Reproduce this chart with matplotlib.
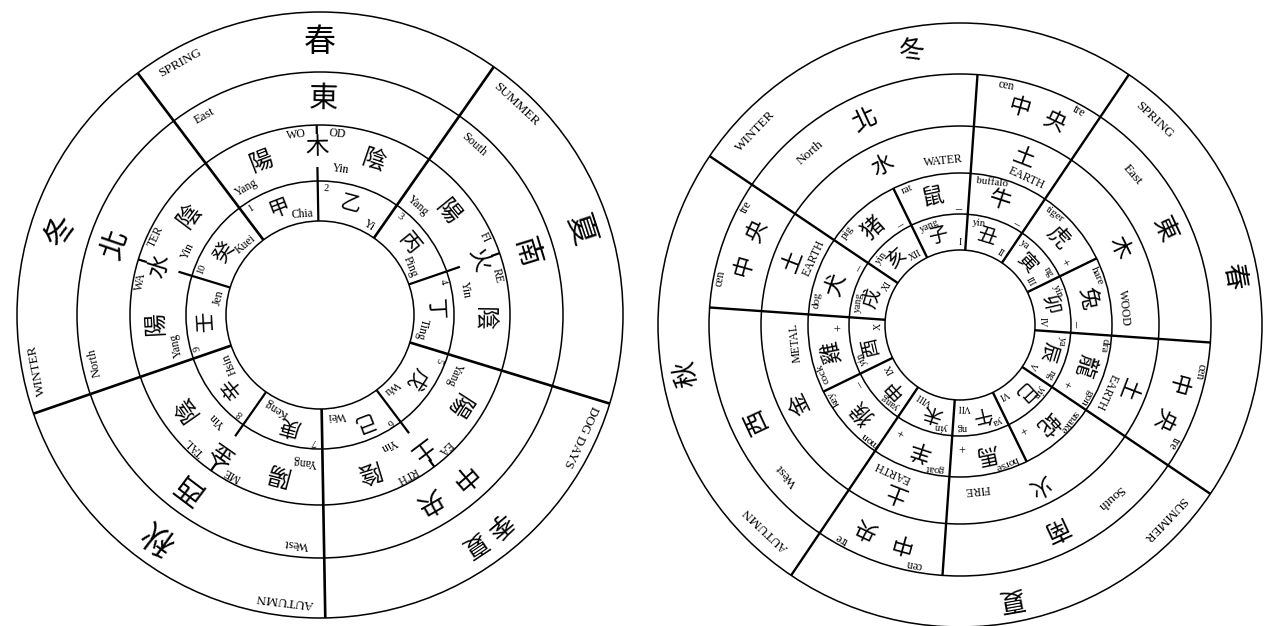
import numpy as np
import matplotlib
matplotlib.use('Agg')
import matplotlib.pyplot as plt
from matplotlib.patches import Circle

# ---------------- data: left wheel (five phases, ten stems) ----------------
L_SEASON_ZH = ['春', '夏', '季夏', '秋', '冬']
L_SEASON_EN = ['SPRING', 'SUMMER', 'DOG DAYS', 'AUTUMN', 'WINTER']
L_DIR_ZH = ['東', '南', '中央', '西', '北']
L_DIR_EN = ['East', 'South', '', 'West', 'North']
L_ELEM_ZH = ['木', '火', '土', '金', '水']
L_ELEM_EN = [('WO', 'OD'), ('FI', 'RE'), ('EA', 'RTH'), ('ME', 'TAL'), ('WA', 'TER')]
L_YANG = ('陽', 'Yang')
L_YIN = ('陰', 'Yin')
L_STEM_ZH = ['甲', '乙', '丙', '丁', '戊', '己', '庚', '辛', '壬', '癸']
L_STEM_EN = ['Chia', 'Yi', 'Ping', 'Ting', 'Wu', 'Wei', 'Keng', 'Hsin', 'Jen', 'Kuei']
L_STEM_NO = ['1', '2', '3', '4', '5', '6', '7', '8', '9', '10']

# ---------------- data: right wheel (seasons, twelve branches) ----------------
R_SEASON_ZH = ['冬', '春', '夏', '秋']
R_SEASON_EN = ['WINTER', 'SPRING', 'SUMMER', 'AUTUMN']
R_DIR_ZH = ['北', '東', '南', '西']
R_DIR_EN = ['North', 'East', 'South', 'West']
R_ELEM_ZH = ['水', '木', '火', '金']
R_ELEM_EN = ['WATER', 'WOOD', 'FIRE', 'METAL']
R_CENTRE_ZH = '中央'
R_CENTRE_EN = ('cen', 'tre')
R_EARTH = ('土', 'EARTH')
R_ANIMAL_EN = ['rat', 'buffalo', 'tiger', 'hare', 'dra|gon', 'snake',
               'horse', 'goat', 'mon|key', 'cock', 'dog', 'pig']
R_ANIMAL_ZH = ['鼠', '牛', '虎', '兔', '龍', '蛇', '馬', '羊', '猴', '雞', '犬', '猪']
R_ANIMAL_SIGN = ['_', '_', '+', '_', '+', '+', '+', '+', '_', '+', '_', '_']
R_BRANCH_ZH = ['子', '丑', '寅', '卯', '辰', '巳', '午', '未', '申', '酉', '戌', '亥']
R_BRANCH_YY = ['yang', 'yin', 'ya|ng', 'yin', 'ya|ng', 'yin',
               'ya|ng', 'yin', 'yang', 'yin', 'yang', 'yin']
R_BRANCH_NO = ['I', 'II', 'III', 'IV', 'V', 'VI', 'VII', 'VIII', 'IX', 'X', 'XI', 'XII']

# ---------------- figure ----------------
W, H = 1266, 626
fig = plt.figure(figsize=(W / 100, H / 100), dpi=100)
ax = fig.add_axes([0, 0, 1, 1])
ax.set_xlim(0, W)
ax.set_ylim(H, 0)
ax.axis('off')

CJK = ['Noto Sans CJK TC', 'Noto Sans CJK SC', 'DejaVu Sans']
SERIF = ['Liberation Serif', 'DejaVu Serif']


def pt(c, r, th):
    t = np.deg2rad(th)
    return c[0] + r * np.cos(t), c[1] - r * np.sin(t)


def txt(c, r, th, s, size, fam, ha='center'):
    x, y = pt(c, r, th)
    w = 'light' if fam is CJK else 'normal'
    ax.text(x, y, s, rotation=th - 90, rotation_mode='anchor', ha=ha,
            va='center', fontsize=size, family=fam, fontweight=w, color='k')


def arc_txt(c, r, th, s, step, size, fam):
    n = len(s)
    for i, ch in enumerate(s):
        txt(c, r, th + step * ((n - 1) / 2 - i), ch, size, fam)


def seg(c, th, r0, r1, lw):
    x0, y0 = pt(c, r0, th)
    x1, y1 = pt(c, r1, th)
    ax.plot([x0, x1], [y0, y1], color='k', lw=lw, solid_capstyle='butt')


def ring(c, r, lw=1.1):
    ax.add_patch(Circle(c, r, fill=False, ec='k', lw=lw))


# ================= LEFT WHEEL =================
LC = (320, 315)
LR = [303, 243, 190, 134, 94]
for r in LR:
    ring(LC, r)

for k in range(5):
    c = 91 - 72 * k          # centre angle of the phase sector
    seg(LC, c + 36, LR[4], LR[0], 1.9)
    seg(LC, c, LR[4], LR[3], 1.6)
    seg(LC, c, LR[3], LR[3] + 14, 1.6)
    seg(LC, c, LR[2] - 9, LR[2], 1.6)

    # ring 1 : seasons
    zh = L_SEASON_ZH[k]
    if len(zh) == 1:
        txt(LC, 273, c - 1, zh, 23, CJK)
    else:
        arc_txt(LC, 275, c, zh, 6.8, 18, CJK)
    txt(LC, 288, c + 28, L_SEASON_EN[k], 9.5, SERIF)

    # ring 2 : directions
    dz = L_DIR_ZH[k]
    if len(dz) == 1:
        txt(LC, 216, c - 2, dz, 21, CJK)
    else:
        arc_txt(LC, 215, c - 1.5, dz, 11, 19, CJK)
    if L_DIR_EN[k]:
        txt(LC, 230, c + 29, L_DIR_EN[k], 9, SERIF)

    # ring 3 : phase with yin / yang halves
    txt(LC, 164, c + 20, L_YANG[0], 17, CJK)
    txt(LC, 147, c + 29, L_YANG[1], 8.5, SERIF)
    txt(LC, 168, c, L_ELEM_ZH[k], 17, CJK)
    a, b = L_ELEM_EN[k]
    txt(LC, 182, c + 2 + 2.2 * len(a), a, 8.5, SERIF)
    txt(LC, 182, c - 2 - 2.2 * len(b), b, 8.5, SERIF)
    txt(LC, 147, c - 9, L_YIN[1], 8.5, SERIF)
    txt(LC, 163, c - 20, L_YIN[0], 17, CJK)

# ring 4 : ten stems
for j in range(10):
    ccw = 127 - 36 * j
    cen = ccw - 18
    txt(LC, 127, ccw - 4, L_STEM_NO[j], 7.5, SERIF)
    txt(LC, 115, cen + 2, L_STEM_ZH[j], 15, CJK)
    txt(LC, 102, ccw - 33, L_STEM_EN[j], 8.5, SERIF, ha='right')

# ================= RIGHT WHEEL =================
RC = (960, 325)
RR = [302, 251, 199, 152, 111, 75]
for r in RR:
    ring(RC, r)

for i in range(12):
    b = 116 - 30 * i
    if i % 3 == 2:
        seg(RC, b, RR[5], RR[0], 1.7)
    elif i % 3 == 1:
        seg(RC, b, RR[5], RR[1], 1.7)
    else:
        seg(RC, b, RR[5], RR[3], 1.7)

for s in range(4):
    ccw = 146 - 90 * s
    c = ccw - 45
    txt(RC, 278, c - 1, R_SEASON_ZH[s], 19, CJK)
    txt(RC, 282, ccw - 9.5, R_SEASON_EN[s], 9.5, SERIF)
    txt(RC, 225, ccw - 31, R_DIR_ZH[s], 18, CJK)
    txt(RC, 229, ccw - 15, R_DIR_EN[s], 9.5, SERIF)
    txt(RC, 178, ccw - 30, R_ELEM_ZH[s], 16, CJK)
    txt(RC, 165, ccw - 50, R_ELEM_EN[s], 8.5, SERIF)
    e = ccw - 60             # ccw edge of the centre / earth month
    txt(RC, 244, e - 7, R_CENTRE_EN[0], 8.5, SERIF)
    txt(RC, 225, e - 11.5, R_CENTRE_ZH[0], 16, CJK)
    txt(RC, 224, e - 21, R_CENTRE_ZH[1], 16, CJK)
    txt(RC, 244, e - 25, R_CENTRE_EN[1], 8.5, SERIF)
    txt(RC, 179, e - 17, R_EARTH[0], 16, CJK)
    txt(RC, 161, e - 20.5, R_EARTH[1], 8.5, SERIF)

for i in range(12):
    ccw = 116 - 30 * i
    cen = ccw - 15
    en = R_ANIMAL_EN[i]
    if '|' in en:
        p, q = en.split('|')
        txt(RC, 146, ccw - 4, p, 8, SERIF)
        txt(RC, 146, ccw - 26, q, 8, SERIF)
    else:
        txt(RC, 145, ccw - 2.5, en, 8, SERIF, ha='left')
    txt(RC, 131, cen + 1, R_ANIMAL_ZH[i], 16, CJK)
    txt(RC, 120, ccw - 25, R_ANIMAL_SIGN[i], 9, SERIF)

    yy = R_BRANCH_YY[i]
    if '|' in yy:
        p, q = yy.split('|')
        txt(RC, 103, ccw - 5, p, 7.5, SERIF)
        txt(RC, 103, ccw - 25, q, 7.5, SERIF)
    else:
        txt(RC, 103, ccw - 3, yy, 7.5, SERIF, ha='left')
    txt(RC, 92, cen + 2, R_BRANCH_ZH[i], 14, CJK)
    txt(RC, 82, ccw - 27.5, R_BRANCH_NO[i], 7, SERIF, ha='right')

fig.savefig('out.png', dpi=100, facecolor='white')
